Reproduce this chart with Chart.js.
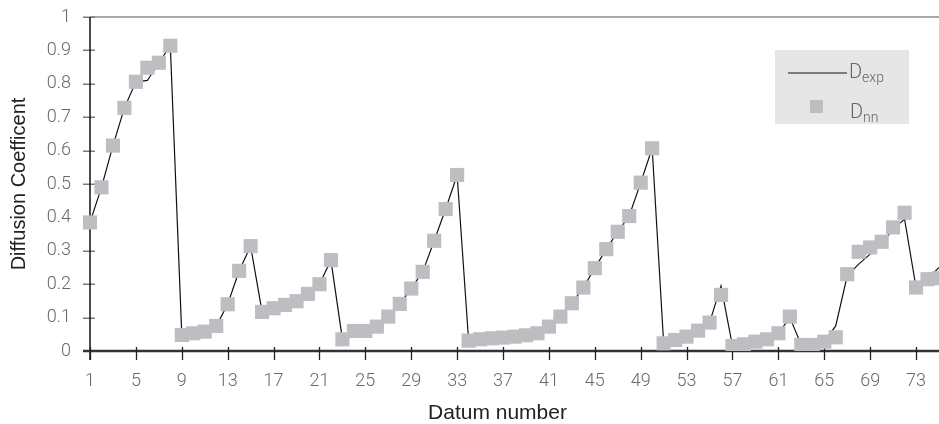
<!DOCTYPE html>
<html>
<head>
<meta charset="utf-8">
<script src="https://cdn.jsdelivr.net/npm/chart.js@4.4.1/dist/chart.umd.min.js"></script>
<style>
  html, body { margin: 0; padding: 0; background: #fff; }
  #wrap { width: 939px; height: 424px; position: relative; }
</style>
</head>
<body>
<div id="wrap"><canvas id="diffChart"></canvas></div>
<script>
// datum numbers along the x axis
const datum = [
  1, 2, 3, 4, 5, 6, 7, 8, 9, 10, 11, 12, 13, 14, 15, 16, 17, 18, 19, 20,
  21, 22, 23, 24, 25, 26, 27, 28, 29, 30, 31, 32, 33, 34, 35, 36, 37, 38, 39, 40,
  41, 42, 43, 44, 45, 46, 47, 48, 49, 50, 51, 52, 53, 54, 55, 56, 57, 58, 59, 60,
  61, 62, 63, 64, 65, 66, 67, 68, 69, 70, 71, 72, 73, 74, 75
];

// labelled ticks on the x axis
const xTicks = [1, 5, 9, 13, 17, 21, 25, 29, 33, 37, 41, 45, 49, 53, 57, 61, 65, 69, 73];

// measured diffusion coefficient
const dExp = [
  0.385, 0.49, 0.615, 0.728, 0.806, 0.81, 0.863, 0.914, 0.048, 0.053,
  0.058, 0.075, 0.14, 0.24, 0.314, 0.117, 0.128, 0.138, 0.149, 0.171,
  0.2, 0.272, 0.035, 0.06, 0.06, 0.073, 0.103, 0.141, 0.187, 0.237,
  0.33, 0.425, 0.527, 0.031, 0.035, 0.038, 0.04, 0.043, 0.047, 0.053,
  0.073, 0.103, 0.143, 0.19, 0.248, 0.305, 0.357, 0.404, 0.504, 0.607,
  0.023, 0.033, 0.043, 0.061, 0.085, 0.195, 0.015, 0.02, 0.028, 0.035,
  0.053, 0.1, 0.018, 0.018, 0.028, 0.075, 0.225, 0.26, 0.29, 0.32,
  0.365, 0.395, 0.19, 0.215, 0.25
];

// neural network prediction
const dNn = [
  0.385, 0.49, 0.615, 0.728, 0.806, 0.848, 0.863, 0.914, 0.048, 0.053,
  0.058, 0.075, 0.14, 0.24, 0.314, 0.117, 0.128, 0.138, 0.149, 0.171,
  0.2, 0.272, 0.035, 0.06, 0.06, 0.073, 0.103, 0.141, 0.187, 0.237,
  0.33, 0.425, 0.527, 0.031, 0.035, 0.038, 0.04, 0.043, 0.047, 0.053,
  0.073, 0.103, 0.143, 0.19, 0.248, 0.305, 0.357, 0.404, 0.504, 0.607,
  0.023, 0.033, 0.043, 0.061, 0.085, 0.168, 0.015, 0.02, 0.028, 0.035,
  0.053, 0.103, 0.018, 0.018, 0.028, 0.041, 0.23, 0.297, 0.31, 0.327,
  0.37, 0.414, 0.19, 0.215, 0.218
];

const markerGrey = '#bdbec2';
const tickFont = { family: 'Roboto, "Liberation Sans", sans-serif', size: 18, weight: 300 };
const titleFont = { family: '"Liberation Sans", Arial, sans-serif', size: 20 };

// axis lines with crossing tick marks, drawn under the data
const axesPlugin = {
  id: 'axes',
  beforeDatasetsDraw(chart) {
    const { ctx, chartArea: a, scales: { x, y } } = chart;
    ctx.save();
    ctx.lineCap = 'butt';

    ctx.strokeStyle = '#8c8c8c';
    ctx.lineWidth = 1.5;
    ctx.beginPath();
    ctx.moveTo(a.left, a.top);
    ctx.lineTo(a.right, a.top);
    ctx.stroke();

    ctx.strokeStyle = '#7a7a7a';
    ctx.lineWidth = 1.5;
    y.ticks.forEach(t => {
      const py = Math.round(y.getPixelForValue(t.value)) + 0.25;
      ctx.beginPath();
      ctx.moveTo(a.left - 7, py);
      ctx.lineTo(a.left + 5, py);
      ctx.stroke();
    });

    ctx.strokeStyle = '#111';
    ctx.lineWidth = 1.5;
    ctx.beginPath();
    ctx.moveTo(a.left, a.top);
    ctx.lineTo(a.left, a.bottom + 9);
    ctx.stroke();

    ctx.strokeStyle = '#333';
    ctx.lineWidth = 2.5;
    ctx.beginPath();
    ctx.moveTo(a.left - 7, a.bottom);
    ctx.lineTo(a.right, a.bottom);
    ctx.stroke();

    ctx.strokeStyle = '#222';
    ctx.lineWidth = 1.3;
    x.ticks.forEach(t => {
      const px = Math.round(x.getPixelForValue(t.value)) + 0.5;
      ctx.beginPath();
      ctx.moveTo(px, a.bottom - 4);
      ctx.lineTo(px, a.bottom + 9);
      ctx.stroke();
    });
    ctx.restore();
  }
};

// x axis title, sitting a little left of the plot centre
const xTitlePlugin = {
  id: 'xTitle',
  afterDraw(chart) {
    const { ctx, chartArea: a } = chart;
    ctx.save();
    ctx.fillStyle = '#222';
    ctx.font = '21px "Liberation Sans", Arial, sans-serif';
    ctx.textAlign = 'center';
    ctx.textBaseline = 'alphabetic';
    ctx.fillText('Datum number', a.left + (a.right - a.left) * 0.48, a.bottom + 68);
    ctx.restore();
  }
};

// legend box with subscripted series names
const legendPlugin = {
  id: 'subLegend',
  afterDraw(chart) {
    const { ctx, chartArea: a } = chart;
    const bx = a.right - 164, by = a.top + 33;
    ctx.save();
    ctx.fillStyle = '#e6e6e7';
    ctx.fillRect(bx, by, 134, 74);

    ctx.strokeStyle = '#111';
    ctx.lineWidth = 1.2;
    ctx.beginPath();
    ctx.moveTo(bx + 13, by + 23);
    ctx.lineTo(bx + 72, by + 23);
    ctx.stroke();

    ctx.fillStyle = markerGrey;
    ctx.fillRect(bx + 35, by + 50, 13, 13);

    const name = (main, sub, x0, base) => {
      ctx.fillStyle = '#666';
      ctx.textBaseline = 'alphabetic';
      ctx.font = '300 20px Roboto, "Liberation Sans", sans-serif';
      ctx.fillText(main, x0, base);
      const w = ctx.measureText(main).width;
      ctx.font = '300 14px Roboto, "Liberation Sans", sans-serif';
      ctx.fillText(sub, x0 + w, base + 4);
    };
    name('D', 'exp', bx + 74, by + 28);
    name('D', 'nn', bx + 75, by + 68);
    ctx.restore();
  }
};

new Chart(document.getElementById('diffChart'), {
  type: 'line',
  data: {
    labels: datum,
    datasets: [
      {
        label: 'Dnn',
        data: dNn,
        showLine: false,
        pointStyle: 'rect',
        pointRadius: 10,
        pointHoverRadius: 10,
        pointBackgroundColor: markerGrey,
        pointBorderWidth: 0,
        order: 0
      },
      {
        label: 'Dexp',
        data: dExp,
        borderColor: '#111',
        borderWidth: 1.2,
        tension: 0,
        pointRadius: 0,
        order: 1
      }
    ]
  },
  plugins: [axesPlugin, xTitlePlugin, legendPlugin],
  options: {
    responsive: true,
    maintainAspectRatio: false,
    animation: false,
    layout: { autoPadding: false, padding: { top: 17, right: 0, left: 0, bottom: 0 } },
    plugins: { legend: { display: false }, tooltip: { enabled: false } },
    scales: {
      x: {
        type: 'category',
        offset: false,
        grid: { display: false, drawTicks: false },
        border: { display: false },
        afterBuildTicks: s => {
          s.ticks = s.ticks.filter(t => xTicks.includes(datum[t.value]));
        },
        afterFit: s => {
          s.height = 73;
          s.paddingLeft = 0;
          s.paddingRight = 0;
        },
        ticks: { autoSkip: false, maxRotation: 0, color: '#6a6a6a', font: tickFont, padding: 20 }
      },
      y: {
        min: 0,
        max: 1,
        grid: { display: false, drawTicks: false },
        border: { display: false },
        afterFit: s => {
          s.width = 90;
          s.paddingTop = 0;
          s.paddingBottom = 0;
        },
        ticks: {
          stepSize: 0.1,
          color: '#6a6a6a',
          font: tickFont,
          padding: 19,
          callback: v => String(Math.round(v * 10) / 10)
        },
        title: { display: true, text: 'Diffusion Coefficent', color: '#222', font: titleFont, padding: { top: 7, bottom: 0 } }
      }
    }
  }
});
</script>
</body>
</html>
